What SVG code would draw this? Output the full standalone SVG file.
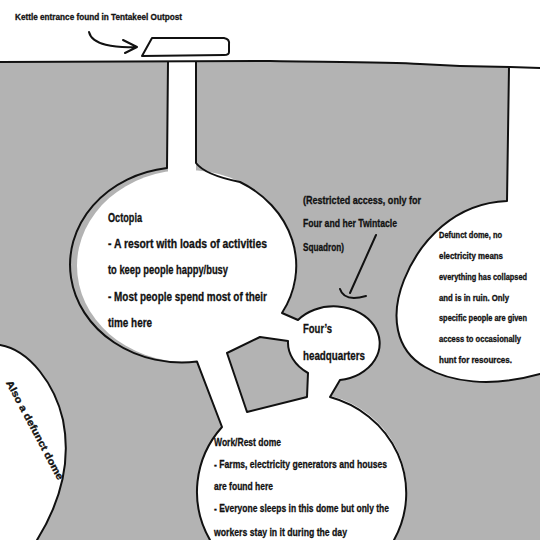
<svg xmlns="http://www.w3.org/2000/svg" width="540" height="540" viewBox="0 0 540 540">
<style>
.ln{fill:none;stroke:#111;stroke-width:2;stroke-linecap:round;stroke-linejoin:round}
.wh{fill:#fff;stroke:none}
.gr{fill:#b3b3b3}
text{font-family:"Liberation Sans","DejaVu Sans",sans-serif;font-weight:bold;fill:#111;stroke:#111;stroke-width:0.3}
.s8{font-size:8.3px}
.s9{font-size:9px}
.s10{font-size:10px}
.s11{font-size:11px}
.s12{font-size:12px}
.s13{font-size:13px}
</style>
<rect width="540" height="540" fill="#fff"/>
<g id="ground">
<path class="gr" d="M0,62 L270,61 C330,62 390,62 420,64 C450,66 480,67 510,67 L540,68 L540,540 L0,540 Z"/>
</g>
<g id="right-dome">
<path class="wh" d="M509,66 L507,201 C455,203 420,240 404,280 C390,315 395,350 425,367 C450,382 490,388 540,374 L540,68 Z"/>
<path class="ln" d="M509,67 L507,201 C455,203 420,240 404,280 C390,315 395,350 425,367 C450,382 490,388 540,374"/>
<text class="s8" x="439" y="238" textLength="63" lengthAdjust="spacingAndGlyphs">Defunct dome, no</text>
<text class="s8" x="439" y="259" textLength="64" lengthAdjust="spacingAndGlyphs">electricity means</text>
<text class="s8" x="439" y="280" textLength="88" lengthAdjust="spacingAndGlyphs">everything has collapsed</text>
<text class="s8" x="439" y="301" textLength="70" lengthAdjust="spacingAndGlyphs">and is in ruin. Only</text>
<text class="s8" x="439" y="321" textLength="88" lengthAdjust="spacingAndGlyphs">specific people are given</text>
<text class="s8" x="439" y="342" textLength="82" lengthAdjust="spacingAndGlyphs">access to occasionally</text>
<text class="s8" x="439" y="363" textLength="73" lengthAdjust="spacingAndGlyphs">hunt for resources.</text>
</g>
<g id="left-dome">
<path class="wh" d="M0,345 C30,350 55,385 63,420 C70,455 65,495 37,540 L0,540 Z"/>
<path class="ln" d="M0,345 C30,350 55,385 63,420 C70,455 65,495 37,540"/>
<text class="s10" transform="translate(35,430) rotate(62)" text-anchor="middle" y="3.5" textLength="111" lengthAdjust="spacingAndGlyphs">Also a defunct dome</text>
</g>
<g id="shaft">
<rect class="wh" x="168" y="62" width="28" height="120"/>
</g>
<g id="octopia">
<ellipse class="wh" cx="187" cy="266" rx="110" ry="96"/>
</g>
<g id="headquarters">
<ellipse class="wh" cx="334" cy="343" rx="46" ry="37"/>
</g>
<g id="work-rest-dome">
<ellipse class="wh" cx="302" cy="492" rx="105" ry="100"/>
</g>
<g id="connectors">
<path class="wh" d="M197,361 L200,330 L282,313 L298,320 L300,360 L340,380 L330,397 L222,427 Z"/>
<path class="gr" d="M227,353 L260,337 L288,341 A46,37 0 0 0 308,373 L307,397 L247,412 Z"/>
<path class="ln" d="M227,353 L260,337 L288,341 A46,37 0 0 0 308,373 L307,397 L247,412 Z"/>
<path class="ln" d="M168,62 L167,168 A110,96 0 1 0 197,361.6 L222,427 A105,100 0 0 0 210,540"/>
<path class="ln" d="M196,62 L196,163 Q205,175 240,182 A110,96 0 0 1 282,313 L298,320 A46,37 0 1 1 340,380 L330,397 A105,100 0 0 1 394,540"/>
</g>
<g id="surface">
<path class="ln" d="M0,62 L270,61 C330,62 390,62 420,64 C450,66 480,67 510,67 L540,68"/>
</g>
<g id="kettle-entrance">
<path class="ln" d="M142,56 L152,38 L224,38 Q230,39 229,45 L229,52 Q229,55 224,55 Z"/>
<text class="s9" x="15" y="20" textLength="167" lengthAdjust="spacingAndGlyphs">Kettle entrance found in Tentakeel Outpost</text>
<path class="ln" d="M89,32 C92,45 115,48 136,47 M123,40 L137,47 L125,53"/>
</g>
<g id="octopia-text">
<text class="s12" x="108" y="222" textLength="34" lengthAdjust="spacingAndGlyphs">Octopia</text>
<text class="s12" x="108" y="248" textLength="159" lengthAdjust="spacingAndGlyphs">- A resort with loads of activities</text>
<text class="s12" x="108" y="274" textLength="120" lengthAdjust="spacingAndGlyphs">to keep people happy/busy</text>
<text class="s12" x="108" y="301" textLength="159" lengthAdjust="spacingAndGlyphs">- Most people spend most of their</text>
<text class="s12" x="108" y="327" textLength="44" lengthAdjust="spacingAndGlyphs">time here</text>
</g>
<g id="restricted-note">
<text class="s11" x="303" y="204" textLength="118" lengthAdjust="spacingAndGlyphs">(Restricted access, only for</text>
<text class="s11" x="303" y="227" textLength="94" lengthAdjust="spacingAndGlyphs">Four and her Twintacle</text>
<text class="s11" x="303" y="251" textLength="41" lengthAdjust="spacingAndGlyphs">Squadron)</text>
<path class="ln" d="M376,235 L350,293 M340,289 Q344,302 366,296"/>
</g>
<g id="hq-text">
<text class="s13" x="303" y="333" textLength="29" lengthAdjust="spacingAndGlyphs">Four’s</text>
<text class="s13" x="303" y="360" textLength="62" lengthAdjust="spacingAndGlyphs">headquarters</text>
</g>
<g id="work-text">
<text class="s11" x="214" y="446" textLength="67" lengthAdjust="spacingAndGlyphs">Work/Rest dome</text>
<text class="s11" x="214" y="468" textLength="173" lengthAdjust="spacingAndGlyphs">- Farms, electricity generators and houses</text>
<text class="s11" x="214" y="490" textLength="59" lengthAdjust="spacingAndGlyphs">are found here</text>
<text class="s11" x="214" y="512" textLength="175" lengthAdjust="spacingAndGlyphs">- Everyone sleeps in this dome but only the</text>
<text class="s11" x="214" y="536" textLength="133" lengthAdjust="spacingAndGlyphs">workers stay in it during the day</text>
</g>
</svg>
